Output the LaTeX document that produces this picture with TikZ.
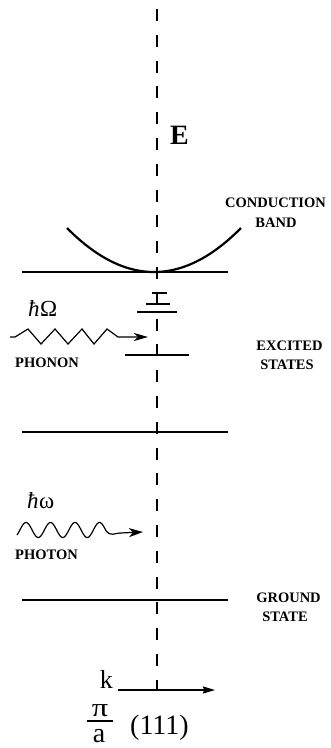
\documentclass[tikz,border=0pt]{standalone}
\usepackage{fontspec}
\setmainfont{Liberation Serif}
\usetikzlibrary{arrows.meta}
\begin{document}
\begin{tikzpicture}[x=1pt,y=-1pt,
  level/.style={line width=2.3pt},
  sublevel/.style={line width=1.3pt},
  axisline/.style={line width=2pt, dash pattern=on 12pt off 13.8pt, dash phase=16.8pt},
  thinline/.style={line width=1.2pt, line join=miter},
  lbl/.style={font=\fontsize{14.5}{17}\selectfont\bfseries, inner sep=0pt},
  big/.style={font=\fontsize{28}{30}\selectfont, inner sep=0pt},
  mid/.style={font=\fontsize{23}{25}\selectfont, inner sep=0pt}]
\useasboundingbox (0,0) rectangle (330,748);

% energy axis
\coordinate (axtop) at (157,0);
\coordinate (axbot) at (157,690);
\draw[axisline] (axtop) -- (axbot);
\node[big, font=\fontsize{28}{30}\selectfont\bfseries, anchor=base west] (E) at (170,144) {E};

% conduction band
\draw[level] (22,272) -- (228,272);
\draw[line width=2.2pt, domain=-87:87, samples=60] plot ({154+\x},{272-0.00581*\x*\x});
\node[lbl, anchor=base] (cond) at (275.5,207) {CONDUCTION};
\node[lbl, anchor=base] (band) at (276,227) {BAND};

% excited states
\draw[sublevel] (152,293) -- (167,293);
\draw[sublevel] (146,304) -- (170,304);
\draw[sublevel] (137,312) -- (177,312);
\draw[sublevel] (125,355) -- (189,355);
\node[lbl, anchor=base] (exc) at (289.5,350) {EXCITED};
\node[lbl, anchor=base] (sts) at (287,369) {STATES};

% phonon
\node[mid, anchor=base west] (hO) at (28,316) {{\itshape ħ}\kern0.5pt Ω};
\coordinate (phs) at (10,337);
\coordinate (pht) at (148,337);
\draw[thinline, -{Stealth[length=14pt,width=8pt,inset=4pt]}] (phs) -- (15,337) -- (28,329) -- (41,344) -- (55,329) -- (68,344) -- (82,329) -- (94,344) -- (107,329) -- (118,337) -- (pht);
\node[lbl, anchor=base west] (phonon) at (15,367) {PHONON};

% middle level
\draw[level] (22,432) -- (228,432);

% photon
\node[mid, anchor=base west] (hw) at (27,508) {{\itshape ħ}\kern0.5pt ω};
\coordinate (ptt) at (143,532);
\draw[thinline, line join=round, -{Stealth[length=14pt,width=9pt,inset=4pt]}]
  plot[domain=17:106, samples=120] ({\x},{530-7.5*cos((\x-26)*14.6939)})
  .. controls (111,537) and (115,533) .. (120,533) -- (ptt);
\node[lbl, anchor=base west] (photon) at (15,559) {PHOTON};

% ground state
\draw[level] (22,600) -- (228,600);
\node[lbl, anchor=base] (gro) at (288.5,602) {GROUND};
\node[lbl, anchor=base] (sta) at (285,621) {STATE};

% k axis
\node[big, font=\fontsize{26}{28}\selectfont, anchor=base east] (k) at (113,688) {k};
\coordinate (ks) at (118,690);
\coordinate (kt) at (215,690);
\draw[line width=1.3pt, -{Stealth[length=12pt,width=7pt,inset=1pt]}] (ks) -- (kt);
\node[big, font=\fontsize{26}{28}\selectfont, anchor=base] (pi) at (100,716) {\scalebox{1.25}[1]{π}};
\node[big, anchor=base] (a) at (99,742) {a};
\draw[line width=1.3pt] (87,721) -- (113,721);
\node[big, anchor=base west] (dir) at (130,734) {(111)};
\end{tikzpicture}
\end{document}
